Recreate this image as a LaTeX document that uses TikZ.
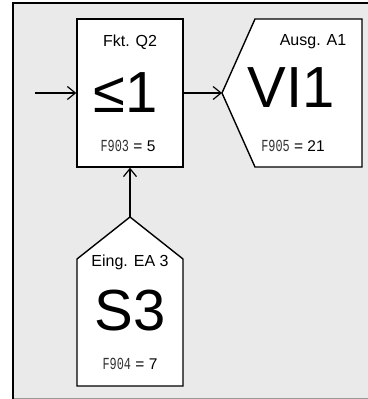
\documentclass[tikz,border=0pt]{standalone}
\usepackage{fontspec}
\setmainfont{Liberation Sans}
\newfontfamily\segfont{Liberation Mono}
\usetikzlibrary{arrows.meta}
\definecolor{bgc}{HTML}{EAEAEA}
\definecolor{segc}{HTML}{333333}
\newcommand{\segtxt}[1]{\raisebox{-0.5pt}{\scalebox{0.95}[1.35]{\segfont\color{segc}\fontsize{12.5}{14}\selectfont #1}}}
\begin{document}
\begin{tikzpicture}[x=1pt,y=-1pt,line width=1.4pt,
  conn/.style={-{Straight Barb[length=8pt,width=13pt,line width=1.2pt]},line width=1.3pt},
  lbl/.style={inner sep=0pt,font=\fontsize{16}{18}\selectfont},
  big/.style={inner sep=0pt,font=\fontsize{58}{60}\selectfont},
  val/.style={inner sep=0pt,font=\fontsize{15.5}{18}\selectfont},
  shp/.style={draw=black,fill=white,line width=1.4pt,line join=miter}]
\useasboundingbox (0,0) rectangle (367,399);
\fill[bgc] (13,3) rectangle (380,398);
\draw[gray!80,line width=1pt] (13,398) -- (380,398);
\draw (13,399.5) -- (13,3) -- (380,3);
% function box
\node[shp,minimum width=106pt,minimum height=148pt,inner sep=0pt] (fkt) at (130,93) {};
\node[lbl] (fktl) at (130,42) {Fkt. Q2};
\node[big] (fktb) at (126,93) {≤1};
\node[val] (fktv) at (128,146) {\segtxt{F903} = 5};
% output pentagon
\draw[shp] (222,93) -- (255,19) -- (362,19) -- (362,167) -- (255,167) -- cycle;
\coordinate (outtip) at (222,93);
\node[lbl] (outl) at (313,42) {Ausg. A1};
\node[big] (outb) at (291,88) {VI1};
\node[val] (outv) at (293,146) {\segtxt{F905} = 21};
% input pentagon
\draw[shp] (130,217) -- (183,259) -- (183,386) -- (77,386) -- (77,259) -- cycle;
\coordinate (intip) at (130,217);
\node[lbl] (inl) at (130,262) {Eing. EA 3};
\node[big] (inb) at (130,311) {S3};
\node[val] (inv) at (130,364) {\segtxt{F904} = 7};
% connectors
\coordinate (src) at (35,93);
\draw[conn] (src) -- (fkt.west);
\draw[conn] (fkt.east) -- (outtip);
\draw[conn] (intip) -- (fkt.south);
\end{tikzpicture}
\end{document}
